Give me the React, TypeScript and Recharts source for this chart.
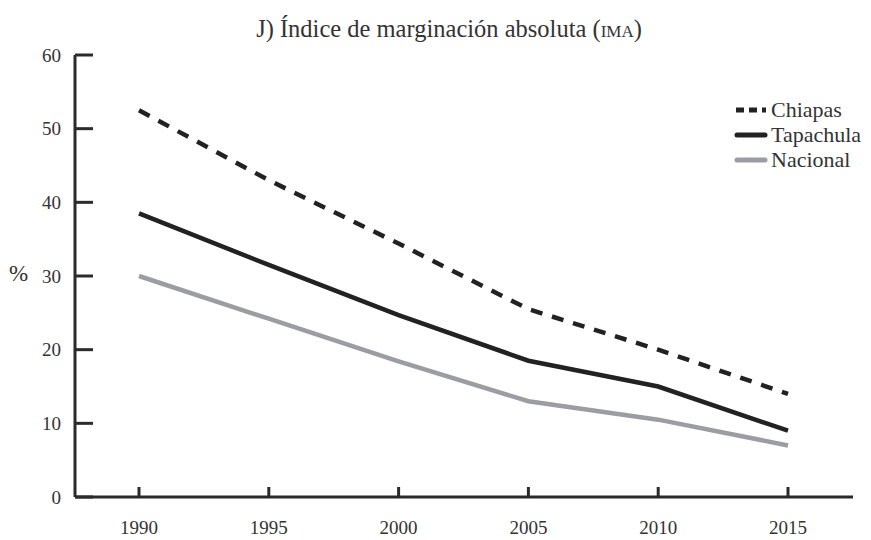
import React from 'react';
import { LineChart, Line, XAxis, YAxis } from 'recharts';

const years = ['1990', '1995', '2000', '2005', '2010', '2015'];
const chiapas = [52.5, 43.0, 34.4, 25.5, 20.0, 14.0];
const tapachula = [38.5, 31.5, 24.7, 18.5, 15.0, 9.0];
const nacional = [30.0, 24.2, 18.4, 13.0, 10.5, 7.0];
const yTicks = [0, 10, 20, 30, 40, 50, 60];

const data = years.map((year, i) => ({
  year,
  Chiapas: chiapas[i],
  Tapachula: tapachula[i],
  Nacional: nacional[i],
}));

const FONT = '"Liberation Serif", "DejaVu Serif", serif';
const DARK = '#222222';
const GREY = '#9a9da1';
const AXIS = '#2b2b2b';
const TEXT = '#333333';

const series = [
  { key: 'Chiapas', color: DARK, dash: '12 10' },
  { key: 'Tapachula', color: DARK, dash: undefined },
  { key: 'Nacional', color: GREY, dash: undefined },
];

// legend drawn by hand so the swatches look like the original
const LegendBox = () => (
  <div
    style={{
      position: 'absolute',
      left: 733,
      top: 97,
      fontFamily: FONT,
      fontSize: 22,
      color: TEXT,
      lineHeight: '25px',
    }}
  >
    {series.map((s) => (
      <div key={s.key} style={{ display: 'flex', alignItems: 'center', height: 25 }}>
        <svg width={38} height={25}>
          {s.dash ? (
            <line x1={3} y1={13} x2={33} y2={13} stroke={s.color} strokeWidth={5} strokeDasharray="8 5" />
          ) : (
            <line x1={4} y1={13} x2={32} y2={13} stroke={s.color} strokeWidth={5} strokeLinecap="round" />
          )}
        </svg>
        <span>{s.key}</span>
      </div>
    ))}
  </div>
);

export default function App() {
  return (
    <div style={{ position: 'relative', width: 871, height: 540, background: '#fff' }}>
      <style>{`body{margin:0}`}</style>
      <LineChart
        width={871}
        height={540}
        data={data}
        margin={{ top: 55, right: 18, bottom: 0, left: 0 }}
      >
        <XAxis
          dataKey="year"
          height={43}
          padding={{ left: 64, right: 65 }}
          tickSize={-10}
          tickMargin={34}
          stroke={AXIS}
          strokeWidth={3}
          tick={{ fill: TEXT, fontFamily: FONT, fontSize: 19 }}
        />
        <YAxis
          width={75}
          domain={[0, 60]}
          ticks={yTicks}
          tickSize={-18}
          tickMargin={32}
          stroke={AXIS}
          strokeWidth={3}
          tick={{ fill: TEXT, fontFamily: FONT, fontSize: 19 }}
        />
        {series.map((s) => (
          <Line
            key={s.key}
            type="linear"
            dataKey={s.key}
            stroke={s.color}
            strokeWidth={4.5}
            strokeDasharray={s.dash}
            dot={false}
            activeDot={false}
            isAnimationActive={false}
          />
        ))}
      </LineChart>
      <div
        style={{
          position: 'absolute',
          top: 15,
          left: 0,
          width: 898,
          textAlign: 'center',
          fontFamily: FONT,
          fontSize: 24.5,
          color: TEXT,
        }}
      >
        J) Índice de marginación absoluta (<span style={{ fontVariant: 'small-caps' }}>ima</span>)
      </div>
      <div style={{ position: 'absolute', left: 9, top: 261, fontFamily: FONT, fontSize: 23, color: TEXT }}>
        %
      </div>
      <LegendBox />
    </div>
  );
}
